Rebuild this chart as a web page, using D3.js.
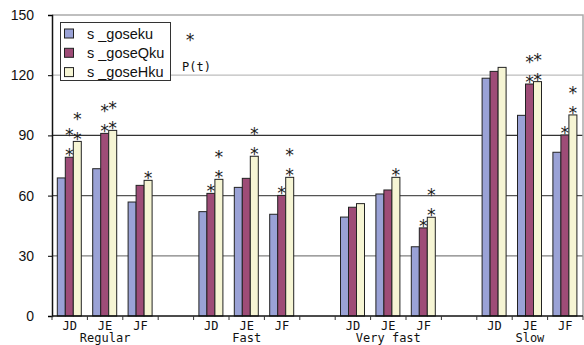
<!DOCTYPE html>
<html><head><meta charset="utf-8">
<script src="https://cdn.jsdelivr.net/npm/d3@7"></script>
<style>body{margin:0;background:#fff}</style>
</head><body>
<svg id="c" width="584" height="345"></svg>
<script>
const groups = ["Regular", "Fast", "Very fast", "Slow"];
const categories = ["JD", "JE", "JF"];
const seriesNames = ["s _goseku", "s _goseQku", "s _goseHku"];
const seriesColors = ["#9aa2d6", "#9e4c77", "#f6f5d4"];
// values per series, ordered group by group, JD/JE/JF
const goseku  = [68.8, 73.4, 56.8,  52.0, 64.1, 50.7,  49.3, 60.8, 34.5,  118.5, 100.0, 81.6];
const goseQku = [79.1, 91.0, 65.1,  61.1, 68.6, 60.1,  54.2, 62.8, 43.9,  121.9, 115.6, 90.2];
const goseHku = [87.0, 92.5, 67.6,  68.1, 79.6, 69.1,  56.0, 69.1, 49.2,  123.9, 116.8, 100.2];
// number of significance asterisks on each bar
const starsGoseku  = [0,0,0, 0,0,0, 0,0,0, 0,0,0];
const starsGoseQku = [2,2,0, 1,0,1, 0,0,1, 0,2,1];
const starsGoseHku = [2,2,1, 2,2,2, 0,1,2, 0,2,2];
const yTicks = [0, 30, 60, 90, 120, 150];

const series = [goseku, goseQku, goseHku];
const stars = [starsGoseku, starsGoseQku, starsGoseHku];

const svg = d3.select("#c");
const L = 52, R = 583, T = 15, B = 316;

// 15 slots: 3 categories + gap for each group
const slots = [];
groups.forEach((g, gi) => {
  categories.forEach(c => slots.push(gi + "|" + c));
  if (gi < groups.length - 1) slots.push("gap" + gi);
});
const x = d3.scaleBand().domain(slots).range([L, R]).paddingInner(0);
const xs = d3.scaleBand().domain(d3.range(3)).range([5.3, 29.3]);
const y = d3.scaleLinear().domain([0, 150]).range([B, T]);

// gridlines
const gridColor = {30: "#808080", 60: "#555", 90: "#333", 120: "#bdbdbd"};
svg.append("g").selectAll("line").data(yTicks.filter(t => t > 0 && t < 150)).join("line")
  .attr("x1", L).attr("x2", R).attr("y1", d => y(d)).attr("y2", d => y(d))
  .attr("stroke", d => gridColor[d]).attr("stroke-width", 1.2);
// top & right border
svg.append("path").attr("d", `M${L},${y(150)}H${R}V${B}`).attr("fill", "none")
  .attr("stroke", "#aaa").attr("stroke-width", 1.5);

// bars
const barData = [];
groups.forEach((g, gi) => categories.forEach((c, ci) => {
  const idx = gi * 3 + ci;
  series.forEach((s, si) => barData.push({slot: gi + "|" + c, si, v: s[idx], n: stars[si][idx]}));
}));
svg.append("g").selectAll("rect").data(barData).join("rect")
  .attr("x", d => x(d.slot) + xs(d.si))
  .attr("y", d => y(d.v))
  .attr("width", xs.bandwidth())
  .attr("height", d => y(0) - y(d.v))
  .attr("fill", d => seriesColors[d.si])
  .attr("stroke", "#222").attr("stroke-width", 1);

// asterisks
const starData = [];
barData.forEach(d => { for (let i = 0; i < d.n; i++) starData.push({...d, i}); });
svg.append("g").selectAll("text").data(starData).join("text")
  .attr("x", d => x(d.slot) + xs(d.si) + xs.bandwidth() / 2)
  .attr("y", d => y(d.v) + 4 - d.i * 20)
  .attr("text-anchor", "middle")
  .attr("font-family", "DejaVu Sans Mono").attr("font-size", 17).attr("fill", "#222")
  .text("*");

// y axis
const yAxis = svg.append("g").attr("transform", `translate(${L},0)`)
  .call(d3.axisLeft(y).tickValues(yTicks).tickSize(4).tickPadding(14));
yAxis.select(".domain").attr("stroke", "#111").attr("stroke-width", 1.5);
yAxis.selectAll("text").attr("font-family", "Liberation Sans").attr("font-size", 14).attr("fill", "#111");

// x axis with ticks at slot boundaries
const xAxis = svg.append("g");
xAxis.append("line").attr("x1", L).attr("x2", R).attr("y1", B).attr("y2", B)
  .attr("stroke", "#111").attr("stroke-width", 1.5);
xAxis.selectAll("line.t").data(slots.concat(["end"])).join("line").attr("class", "t")
  .attr("x1", d => d === "end" ? R : x(d)).attr("x2", d => d === "end" ? R : x(d))
  .attr("y1", B).attr("y2", B + 4).attr("stroke", "#333");
xAxis.selectAll("text.c").data(slots.filter(s => !s.startsWith("gap"))).join("text").attr("class", "c")
  .attr("x", d => x(d) + x.bandwidth() / 2).attr("y", 330)
  .attr("text-anchor", "middle").attr("font-family", "DejaVu Sans Mono").attr("font-size", 12).attr("fill", "#111")
  .text(d => d.split("|")[1]);
xAxis.selectAll("text.g").data(groups).join("text").attr("class", "g")
  .attr("x", (g, gi) => x(gi + "|JE") + x.bandwidth() / 2).attr("y", 341.5)
  .attr("text-anchor", "middle").attr("font-family", "DejaVu Sans Mono").attr("font-size", 12).attr("fill", "#111")
  .text(d => d);

// legend
const lg = svg.append("g");
lg.append("rect").attr("x", 60.5).attr("y", 22.5).attr("width", 110).attr("height", 58)
  .attr("fill", "#fff").attr("stroke", "#333").attr("stroke-width", 1);
seriesNames.forEach((n, i) => {
  const cy = 33.5 + i * 19.3;
  lg.append("rect").attr("x", 64.5).attr("y", cy - 4.5).attr("width", 9).attr("height", 9)
    .attr("fill", seriesColors[i]).attr("stroke", "#222");
  lg.append("text").attr("x", 87).attr("y", cy + 5).attr("font-family", "Liberation Sans")
    .attr("font-size", 14.5).attr("fill", "#111").text(n);
});

// significance note
svg.append("text").attr("x", 190).attr("y", 46).attr("text-anchor", "middle")
  .attr("font-family", "DejaVu Sans Mono").attr("font-size", 17).attr("fill", "#222").text("*");
svg.append("text").attr("x", 182).attr("y", 71)
  .attr("font-family", "DejaVu Sans Mono").attr("font-size", 12).attr("fill", "#111").text("P(t)");
</script>
</body></html>
